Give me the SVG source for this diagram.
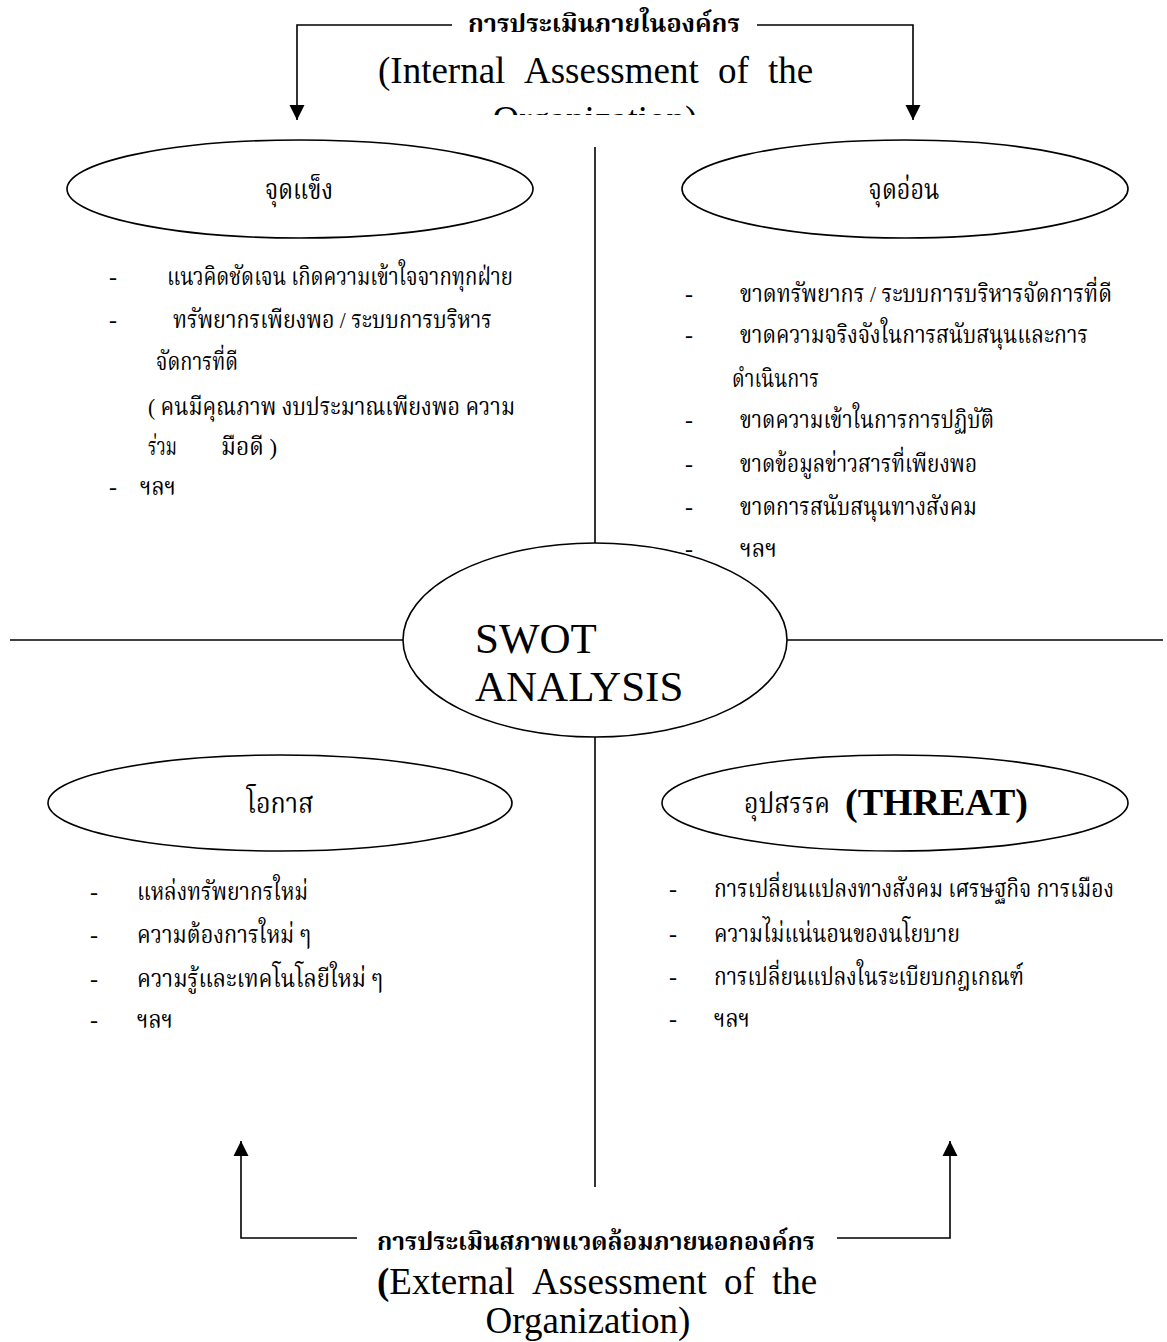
<svg xmlns="http://www.w3.org/2000/svg" width="1167" height="1342" viewBox="0 0 1167 1342">
<defs>
<marker id="arr" markerUnits="userSpaceOnUse" markerWidth="16" markerHeight="16" viewBox="0 0 16 16" refX="15" refY="8" orient="auto">
<path d="M0,0.5 L15,8 L0,15.5 Z" fill="#000"/>
</marker>
<clipPath id="clipTop"><rect x="0" y="0" width="1167" height="115"/></clipPath>
</defs>
<style>
.ln{stroke:#000;stroke-width:1.6;fill:none}
.el{stroke:#000;stroke-width:1.6;fill:#fff}
.th{font-family:"Liberation Serif","Noto Serif Thai","Noto Sans Thai","Loma","Garuda","DejaVu Sans",serif;font-size:24px;fill:#000}
.lbl{font-family:"Liberation Serif","Noto Serif Thai","Noto Sans Thai","Loma","Garuda","DejaVu Sans",serif;font-size:28px;fill:#000}
.ttl{font-family:"Liberation Serif","Noto Serif Thai","Noto Sans Thai","Loma","Garuda","DejaVu Sans",serif;font-size:24px;font-weight:bold;fill:#000}
.en{font-family:"Liberation Serif","Times New Roman",serif;font-size:37px;fill:#000}
.sw{font-family:"Liberation Serif","Times New Roman",serif;font-size:43px;fill:#000}
.dash{font-family:"Liberation Serif","Times New Roman",serif;font-size:24px;fill:#000}
</style>
<rect width="1167" height="1342" fill="#fff"/>

<g id="connectors">
<line class="ln" x1="595" y1="147" x2="595" y2="1187"/>
<line class="ln" x1="10" y1="640" x2="1163" y2="640"/>
<path class="ln" d="M452,25 H297 V120" marker-end="url(#arr)"/>
<path class="ln" d="M757,25 H913 V120" marker-end="url(#arr)"/>
<path class="ln" d="M357,1238 H241 V1141" marker-end="url(#arr)"/>
<path class="ln" d="M837,1238 H950 V1141" marker-end="url(#arr)"/>
</g>

<g id="internal-title">
<text class="ttl" x="468" y="32" textLength="272" lengthAdjust="spacingAndGlyphs">การประเมินภายในองค์กร</text>
<text class="en" y="83"><tspan x="378">(Internal</tspan><tspan x="524">Assessment</tspan><tspan x="718">of</tspan><tspan x="768">the</tspan></text>
<text class="en" x="595" y="132" text-anchor="middle" clip-path="url(#clipTop)">Organization)</text>
</g>

<g id="strengths">
<ellipse class="el" cx="300" cy="189" rx="233" ry="49"/>
<text class="lbl" x="299" y="199" text-anchor="middle" textLength="68" lengthAdjust="spacingAndGlyphs">จุดแข็ง</text>
<text class="dash" x="109" y="285">-</text>
<text class="th" x="167" y="285" textLength="346" lengthAdjust="spacingAndGlyphs">แนวคิดชัดเจน เกิดความเข้าใจจากทุกฝ่าย</text>
<text class="dash" x="109" y="328">-</text>
<text class="th" x="173" y="328" textLength="319" lengthAdjust="spacingAndGlyphs">ทรัพยากรเพียงพอ / ระบบการบริหาร</text>
<text class="th" x="156" y="370" textLength="82" lengthAdjust="spacingAndGlyphs">จัดการที่ดี</text>
<text class="th" x="148" y="415" textLength="367" lengthAdjust="spacingAndGlyphs">( คนมีคุณภาพ  งบประมาณเพียงพอ ความ</text>
<text class="th" x="148" y="455" textLength="29" lengthAdjust="spacingAndGlyphs">ร่วม</text>
<text class="th" x="221" y="455" textLength="56" lengthAdjust="spacingAndGlyphs">มือดี )</text>
<text class="dash" x="109" y="495">-</text>
<text class="th" x="140" y="495" textLength="36" lengthAdjust="spacingAndGlyphs">ฯลฯ</text>
</g>

<g id="weaknesses">
<ellipse class="el" cx="905" cy="189" rx="223" ry="49"/>
<text class="lbl" x="904" y="199" text-anchor="middle" textLength="71" lengthAdjust="spacingAndGlyphs">จุดอ่อน</text>
<text class="dash" x="685" y="302">-</text>
<text class="th" x="740" y="302" textLength="372" lengthAdjust="spacingAndGlyphs">ขาดทรัพยากร / ระบบการบริหารจัดการที่ดี</text>
<text class="dash" x="685" y="343">-</text>
<text class="th" x="740" y="343" textLength="348" lengthAdjust="spacingAndGlyphs">ขาดความจริงจังในการสนับสนุนและการ</text>
<text class="th" x="732" y="387" textLength="87" lengthAdjust="spacingAndGlyphs">ดำเนินการ</text>
<text class="dash" x="685" y="428">-</text>
<text class="th" x="740" y="428" textLength="254" lengthAdjust="spacingAndGlyphs">ขาดความเข้าในการการปฏิบัติ</text>
<text class="dash" x="685" y="472">-</text>
<text class="th" x="740" y="472" textLength="237" lengthAdjust="spacingAndGlyphs">ขาดข้อมูลข่าวสารที่เพียงพอ</text>
<text class="dash" x="685" y="515">-</text>
<text class="th" x="740" y="515" textLength="237" lengthAdjust="spacingAndGlyphs">ขาดการสนับสนุนทางสังคม</text>
<text class="dash" x="685" y="557">-</text>
<text class="th" x="740" y="557" textLength="37" lengthAdjust="spacingAndGlyphs">ฯลฯ</text>
</g>

<g id="swot">
<ellipse class="el" cx="595" cy="640" rx="192" ry="97"/>
<text class="sw" x="475" y="653">SWOT</text>
<text class="sw" x="475" y="701">ANALYSIS</text>
</g>

<g id="opportunities">
<ellipse class="el" cx="280" cy="803" rx="232" ry="48"/>
<text class="lbl" x="280" y="813" text-anchor="middle" textLength="67" lengthAdjust="spacingAndGlyphs">โอกาส</text>
<text class="dash" x="90" y="900">-</text>
<text class="th" x="137" y="900" textLength="171" lengthAdjust="spacingAndGlyphs">แหล่งทรัพยากรใหม่</text>
<text class="dash" x="90" y="943">-</text>
<text class="th" x="137" y="943" textLength="174" lengthAdjust="spacingAndGlyphs">ความต้องการใหม่ ๆ</text>
<text class="dash" x="90" y="987">-</text>
<text class="th" x="137" y="987" textLength="246" lengthAdjust="spacingAndGlyphs">ความรู้และเทคโนโลยีใหม่ ๆ</text>
<text class="dash" x="90" y="1028">-</text>
<text class="th" x="137" y="1028" textLength="36" lengthAdjust="spacingAndGlyphs">ฯลฯ</text>
</g>

<g id="threats">
<ellipse class="el" cx="895" cy="803" rx="233" ry="48"/>
<text class="lbl" x="744" y="813" textLength="86" lengthAdjust="spacingAndGlyphs">อุปสรรค</text>
<text class="en" x="845" y="815" style="font-size:38px;font-weight:bold">(THREAT)</text>
<text class="dash" x="669" y="897">-</text>
<text class="th" x="714" y="897" textLength="400" lengthAdjust="spacingAndGlyphs">การเปลี่ยนแปลงทางสังคม เศรษฐกิจ  การเมือง</text>
<text class="dash" x="669" y="942">-</text>
<text class="th" x="714" y="942" textLength="246" lengthAdjust="spacingAndGlyphs">ความไม่แน่นอนของนโยบาย</text>
<text class="dash" x="669" y="985">-</text>
<text class="th" x="714" y="985" textLength="310" lengthAdjust="spacingAndGlyphs">การเปลี่ยนแปลงในระเบียบกฎเกณฑ์</text>
<text class="dash" x="669" y="1027">-</text>
<text class="th" x="714" y="1027" textLength="36" lengthAdjust="spacingAndGlyphs">ฯลฯ</text>
</g>

<g id="external-title">
<text class="ttl" x="377" y="1250" textLength="438" lengthAdjust="spacingAndGlyphs">การประเมินสภาพแวดล้อมภายนอกองค์กร</text>
<text class="en" y="1294"><tspan x="377" font-weight="bold">(</tspan><tspan>External</tspan><tspan x="532">Assessment</tspan><tspan x="724">of</tspan><tspan x="772">the</tspan></text>
<text class="en" x="588" y="1333" text-anchor="middle">Organization)</text>
</g>
</svg>
